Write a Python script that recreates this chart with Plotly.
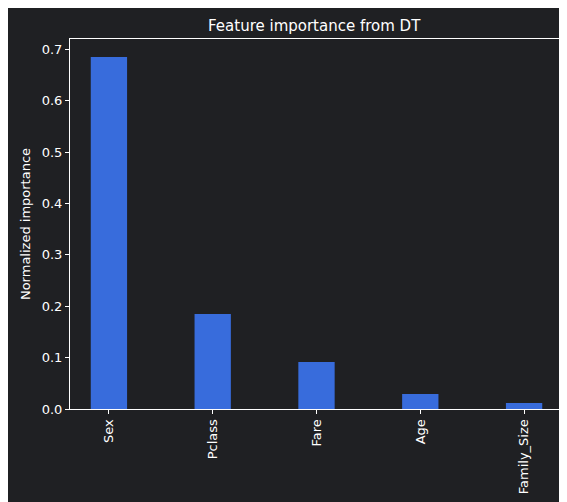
import plotly.graph_objects as go

features = ["Sex", "Pclass", "Fare", "Age", "Family_Size"]
importance = [0.685, 0.185, 0.0915, 0.029, 0.0117]

bg = "#1f2023"
fig = go.Figure(go.Bar(x=list(range(len(features))), y=importance, width=0.35,
                       marker=dict(color="#386cdc", line=dict(width=0))))
fig.update_layout(
    width=567, height=502, paper_bgcolor=bg, plot_bgcolor=bg,
    margin=dict(l=62, r=12, t=31, b=101, autoexpand=False),
    font=dict(family="DejaVu Sans", color="white", size=13),
    title=dict(text="Feature importance from DT", x=0.54, xanchor="center", y=0.975, font=dict(size=15)),
    showlegend=False,
)
fig.update_xaxes(range=[-0.375, 4.375], tickvals=list(range(len(features))), ticktext=features,
                 tickangle=-90, showgrid=False, zeroline=False, showline=True, mirror=True,
                 linecolor="white", linewidth=1, ticks="outside", tickcolor="white", ticklen=4,
                 automargin=False)
fig.update_yaxes(range=[0, 0.72], dtick=0.1, tickformat=".1f", showgrid=False, zeroline=False,
                 showline=True, mirror=True, linecolor="white", linewidth=1, ticks="outside",
                 tickcolor="white", ticklen=4, automargin=False,
                 title=dict(text="Normalized importance", font=dict(size=13), standoff=8))
fig.write_html("out.html")
